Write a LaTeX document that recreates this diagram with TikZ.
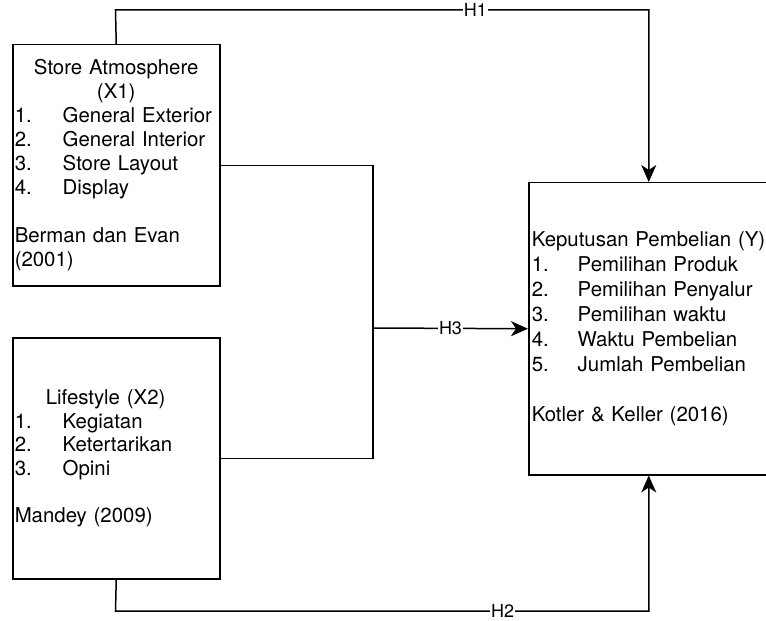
\documentclass[tikz,border=0pt]{standalone}
\usepackage{fontspec}
\setmainfont{TeX Gyre Heros}
\usetikzlibrary{arrows.meta}
\newcommand\itm[3]{\makebox[#1][l]{#2}#3}
\begin{document}
\begin{tikzpicture}[x=1bp,y=-1bp,line width=1.5bp,
  box/.style={draw,line width=1.5bp,rectangle,align=left,anchor=north west,inner ysep=0pt},
  lbl/.style={fill=white,font=\fontsize{18bp}{19bp}\selectfont,inner sep=0.8bp},
  arr/.style={-{Stealth[length=17bp,width=15bp,inset=5bp]}}]
\useasboundingbox (0,0) rectangle (766,621);

\node[box,minimum width=207bp,minimum height=241bp,text width=203bp,inner xsep=2bp,
  font=\fontsize{20.4bp}{24bp}\selectfont] (X1) at (12,44)
 {\makebox[203bp]{Store Atmosphere}\\
  \makebox[203bp]{(X1)}\\
  \itm{48bp}{1.}{General Exterior}\\
  \itm{48bp}{2.}{General Interior}\\
  \itm{48bp}{3.}{Store Layout}\\
  \itm{48bp}{4.}{Display}\\[24bp]
  Berman dan Evan\\
  (2001)};

\node[box,minimum width=207bp,minimum height=241bp,text width=203bp,inner xsep=2bp,
  font=\fontsize{20.4bp}{23.5bp}\selectfont] (X2) at (12,337)
 {\hspace*{31bp}Lifestyle (X2)\\
  \itm{48bp}{1.}{Kegiatan}\\
  \itm{48bp}{2.}{Ketertarikan}\\
  \itm{48bp}{3.}{Opini}\\[23.5bp]
  Mandey (2009)};

\node[box,minimum width=240bp,minimum height=292bp,text width=234bp,inner xsep=3bp,
  font=\fontsize{20.4bp}{25bp}\selectfont] (Y) at (528,182)
 {\mbox{Keputusan Pembelian (Y)}\\
  \itm{46bp}{1.}{Pemilihan Produk}\\
  \itm{46bp}{2.}{Pemilihan Penyalur}\\
  \itm{46bp}{3.}{Pemilihan waktu}\\
  \itm{46bp}{4.}{Waktu Pembelian}\\
  \itm{46bp}{5.}{Jumlah Pembelian}\\[25bp]
  Kotler \& Keller (2016)};

% H1
\coordinate (h1) at (115.5,10);
\draw[arr] (X1.north) -- (h1) -- node[lbl,pos=0.675]{H1} (h1 -| Y.north) -- (Y.north);
% H2
\coordinate (h2) at (115.5,611);
\draw[arr] (X2.south) -- (h2) -- node[lbl,pos=0.726]{H2} (h2 -| Y.south) -- (Y.south);
% H3
\coordinate (j) at (373,328);
\draw (X1.east) -| (j);
\draw (X2.east) -| (j);
\draw[arr] (j) -- node[lbl]{H3} (Y.west);
\end{tikzpicture}
\end{document}
